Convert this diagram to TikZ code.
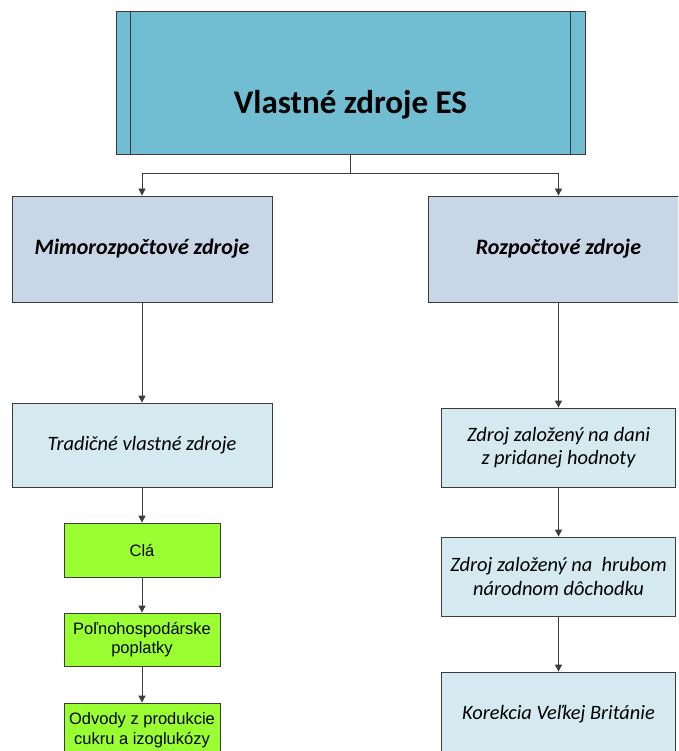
\documentclass[tikz,border=0pt]{standalone}
\usepackage{fontspec}
\setmainfont{Carlito}
\newfontfamily\arialfont{Liberation Sans}
\usetikzlibrary{arrows.meta, positioning}
\definecolor{topblue}{RGB}{113,189,209}
\definecolor{steelblue}{RGB}{201,214,229}
\definecolor{paleblue}{RGB}{212,234,240}
\definecolor{limegreen}{RGB}{153,255,51}
\definecolor{linegray}{RGB}{60,60,60}

\begin{document}
\begin{tikzpicture}[x=1pt, y=-1pt, >={Triangle[length=7pt,width=7pt]}]
    \tikzstyle{box}=[rectangle, draw=linegray, line width=0.8pt, inner sep=2pt, align=center]
    \tikzstyle{head}=[box, fill=topblue, minimum width=469pt, minimum height=143pt]
    \tikzstyle{branch}=[box, fill=steelblue, minimum width=260pt, minimum height=106pt, font=\fontsize{22}{26}\selectfont\bfseries\itshape]
    \tikzstyle{source}=[box, fill=paleblue, minimum height=79pt, font=\fontsize{20.4}{23.5}\selectfont\itshape]
    \tikzstyle{levy}=[box, fill=limegreen, minimum width=156pt, minimum height=54pt, font=\arialfont\fontsize{16.5}{19.5}\selectfont]
    \tikzstyle{every edge}=[draw, ->, linegray, line width=0.8pt]

    \useasboundingbox (0,0) rectangle (678,751);
    \clip (0,0) rectangle (678,751);

%   top
    \node[head] (top) at (350.5,82.5) {};
    \draw[linegray, line width=0.8pt] ([xshift=15pt]top.north west) -- ([xshift=15pt]top.south west);
    \draw[linegray, line width=0.8pt] ([xshift=-15pt]top.north east) -- ([xshift=-15pt]top.south east);
    \node[font=\fontsize{33}{40}\selectfont\bfseries] (title) at (350.5,105) {Vlastné zdroje ES};

%   two branches
    \node[branch] (mimo) at (142,249) {Mimorozpočtové zdroje};
    \node[branch] (rozp) at (558.5,249) {Rozpočtové zdroje};

    \coordinate (fork) at (350.5,173);
    \draw[linegray, line width=0.8pt] (top.south) -- (fork);
    \draw[->, linegray, line width=0.8pt] (fork) -| (mimo.north);
    \draw[->, linegray, line width=0.8pt] (fork) -| (rozp.north);

%   left column
    \node[source, minimum width=260pt, minimum height=84pt] (trad) at (142,445) {Tradičné vlastné zdroje};
    \node[levy] (cla) at (142,550) {Clá};
    \node[levy, minimum height=53pt] (polno) at (142,639.5) {Poľnohospodárske\\poplatky};
    \node[levy] (odvody) at (142,730) {Odvody z produkcie\\cukru a izoglukózy};

%   right column
    \node[source, minimum width=234pt] (dph) at (558.5,447.5) {Zdroj založený na dani\\z pridanej hodnoty};
    \node[source, minimum width=234pt] (hnd) at (558.5,576.5) {Zdroj založený na\ \ hrubom\\národnom dôchodku};
    \node[source, minimum width=234pt, minimum height=84pt] (brit) at (558.5,714) {Korekcia Veľkej Británie};

    \path (mimo) edge (trad);
    \path (trad) edge (cla);
    \path (cla) edge (polno);
    \path (polno) edge (odvody);

    \path (rozp) edge (dph);
    \path (dph) edge (hnd);
    \path (hnd) edge (brit);
\end{tikzpicture}
\end{document}
